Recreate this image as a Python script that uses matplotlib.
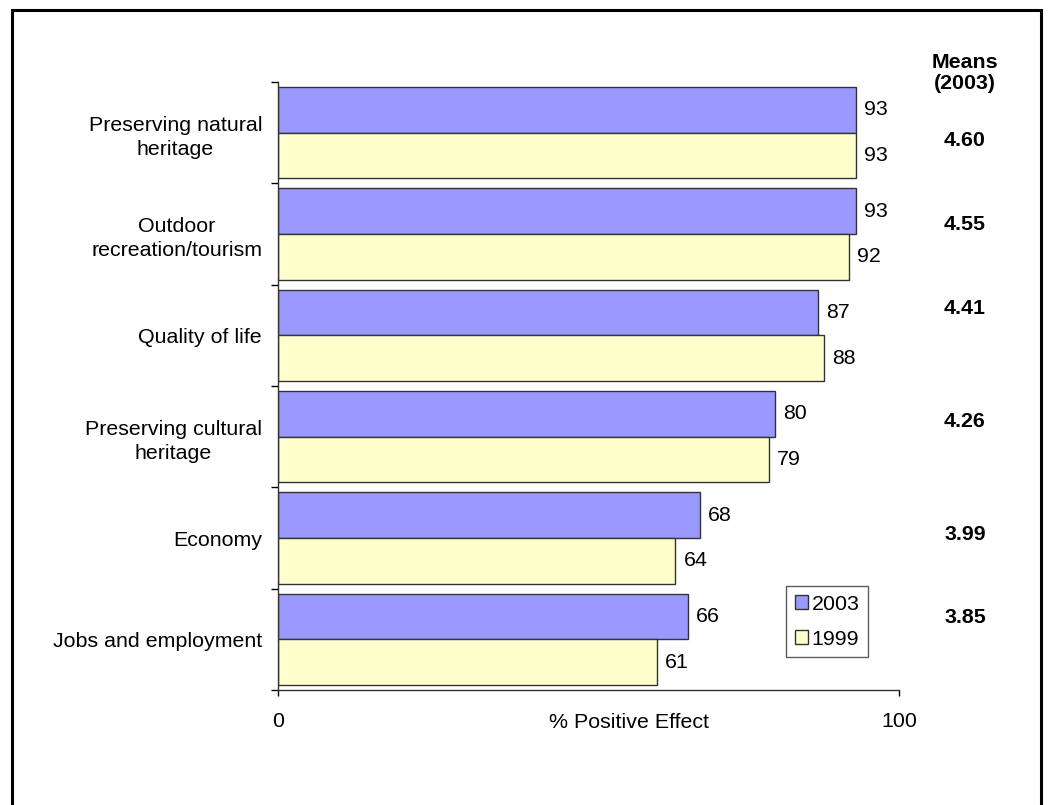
import numpy as np
import matplotlib.pyplot as plt
from matplotlib.patches import Rectangle

plt.rcParams['font.family'] = ['Liberation Sans', 'DejaVu Sans']

# survey data
categories = ['Preserving natural\nheritage', 'Outdoor\nrecreation/tourism',
              'Quality of life', 'Preserving cultural\nheritage', 'Economy',
              'Jobs and employment']
pct_2003 = [93, 93, 87, 80, 68, 66]
pct_1999 = [93, 92, 88, 79, 64, 61]
means_2003 = ['4.60', '4.55', '4.41', '4.26', '3.99', '3.85']
means_ypix = [140, 224, 308, 421, 534, 617]

FS = 15.4
W, H = 1049, 805
fig = plt.figure(figsize=(W / 100, H / 100), dpi=100)
ax = fig.add_axes([278 / W, 1 - 690 / H, (899 - 278) / W, (690 - 82) / H])

y = np.arange(len(categories))
bh = 0.45
ax.barh(y - bh / 2, pct_2003, height=bh, color='#9999FF',
        edgecolor='#333333', linewidth=1, label='2003')
ax.barh(y + bh / 2, pct_1999, height=bh, color='#FFFFCC',
        edgecolor='#333333', linewidth=1, label='1999')

for yi, v in zip(y, pct_2003):
    ax.text(v + 1.3, yi - bh / 2, str(v), va='center', ha='left', fontsize=FS)
for yi, v in zip(y, pct_1999):
    ax.text(v + 1.3, yi + bh / 2, str(v), va='center', ha='left', fontsize=FS)

ax.set_xlim(0, 100)
ax.set_ylim(len(categories) - 0.5, -0.5)

# category labels without ticks, ticks on group boundaries
ax.set_yticks(y)
ax.set_yticklabels(categories, fontsize=FS, ha='right', multialignment='center',
                   linespacing=1.35)
ax.tick_params(axis='y', which='major', length=0, pad=11.5)
ax.set_yticks(np.arange(-0.5, len(categories)), minor=True)
ax.tick_params(axis='y', which='minor', length=5, width=1, direction='out')

ax.set_xticks([0, 100])
ax.set_xticklabels(['0', '100'], fontsize=FS)
ax.tick_params(axis='x', length=4, width=1, pad=12)
ax.text(56.5, -0.053, '% Positive Effect', transform=ax.get_xaxis_transform(),
        ha='center', va='center', fontsize=FS)

ax.spines['top'].set_visible(False)
ax.spines['right'].set_visible(False)
for s in ('left', 'bottom'):
    ax.spines[s].set_color('#333333')
    ax.spines[s].set_linewidth(1)

leg = ax.legend(loc='upper left', bbox_to_anchor=(786 / W, 1 - 586 / H),
                bbox_transform=fig.transFigure, fontsize=FS, frameon=True,
                fancybox=False, handlelength=0.65, handleheight=0.65,
                handletextpad=0.15, labelspacing=0.75, borderpad=0.4,
                borderaxespad=0)
leg.get_frame().set_edgecolor('#333333')
leg.get_frame().set_linewidth(1)

# means column
fig.text(965 / W, 1 - 73 / H, 'Means\n(2003)', ha='center', va='center',
         fontsize=FS, fontweight='bold', linespacing=1.1)
for m, yp in zip(means_2003, means_ypix):
    fig.text(965 / W, 1 - yp / H, m, ha='center', va='center',
             fontsize=FS, fontweight='bold')

# outer frame
fig.patches.append(Rectangle((12 / W, -0.05), (1041 - 12) / W, 1.05 - 10 / H,
                             transform=fig.transFigure, fill=False,
                             edgecolor='black', linewidth=2.2))

fig.savefig('out.png', dpi=100)
